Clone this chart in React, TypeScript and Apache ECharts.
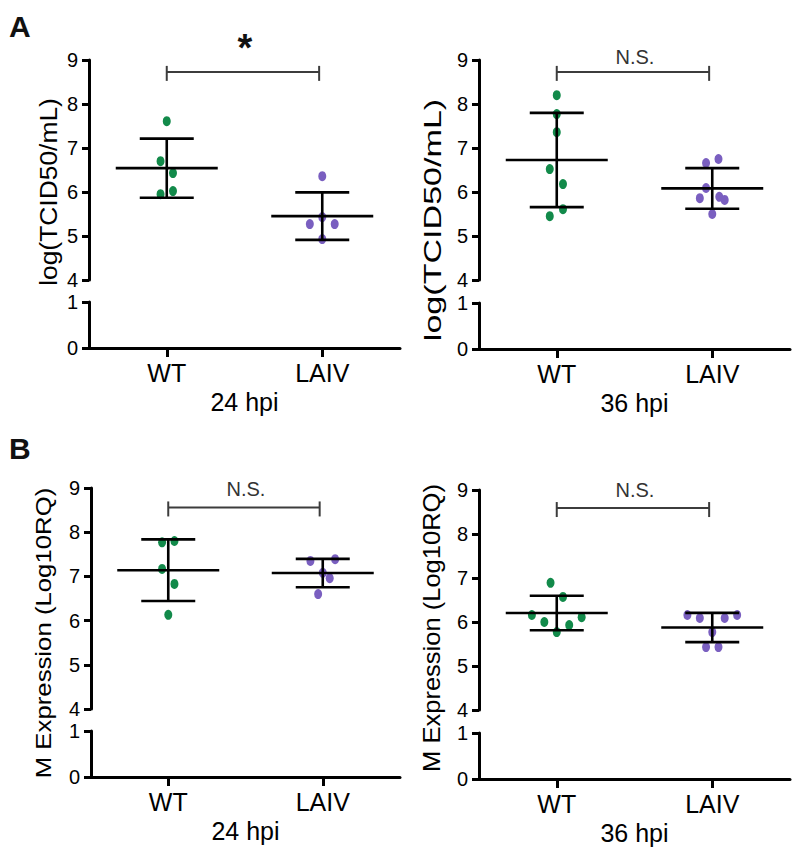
import React, { useEffect, useRef } from 'react';
import * as echarts from 'echarts';

// ---- data ----
const groups = ['WT', 'LAIV'];
const yTicksUpper = [4, 5, 6, 7, 8, 9];
const yTicksLower = [0, 1];

// Panel A: log(TCID50/mL)
const titer24WT = [7.61, 6.7, 6.43, 5.95, 6.02];
const titer24WTJitter = [0, -0.04, 0.04, -0.04, 0.04];
const titer24LAIV = [6.36, 5.27, 5.27, 5.43, 4.93];
const titer24LAIVJitter = [0, -0.08, 0.08, 0, 0];

const titer36WT = [8.2, 7.77, 7.36, 6.52, 6.18, 5.61, 5.45];
const titer36WTJitter = [0, 0, 0, -0.045, 0.04, 0.04, -0.045];
const titer36LAIV = [6.75, 6.66, 6.09, 5.86, 5.89, 5.82, 5.5];
const titer36LAIVJitter = [0.04, -0.04, -0.04, -0.08, 0.045, 0.08, 0];

// Panel B: M Expression (Log10RQ)
const mexp24WT = [7.77, 7.8, 7.17, 6.83, 6.13];
const mexp24WTJitter = [-0.04, 0.04, -0.04, 0.04, 0];
const mexp24LAIV = [7.35, 7.39, 7.08, 6.96, 6.6];
const mexp24LAIVJitter = [-0.08, 0.08, 0, 0.045, -0.03];

const mexp36WT = [6.89, 6.57, 6.16, 6.11, 6.0, 5.93, 5.77];
const mexp36WTJitter = [-0.04, 0.04, -0.16, 0.16, -0.08, 0.08, 0];
const mexp36LAIV = [6.16, 6.09, 6.09, 6.16, 5.77, 5.43, 5.43];
const mexp36LAIVJitter = [-0.16, -0.08, 0.08, 0.16, 0, -0.04, 0.04];

const timeLabels = ['24 hpi', '36 hpi', '24 hpi', '36 hpi'];
const sigLabels = ['*', 'N.S.', 'N.S.', 'N.S.'];
const yTitles = ['log(TCID50/mL)', 'log(TCID50/mL)', 'M Expression (Log10RQ)', 'M Expression (Log10RQ)'];
const panelLetters = ['A', 'B'];

const panelData = [
  { wt: titer24WT, wtJ: titer24WTJitter, laiv: titer24LAIV, laivJ: titer24LAIVJitter },
  { wt: titer36WT, wtJ: titer36WTJitter, laiv: titer36LAIV, laivJ: titer36LAIVJitter },
  { wt: mexp24WT, wtJ: mexp24WTJitter, laiv: mexp24LAIV, laivJ: mexp24LAIVJitter },
  { wt: mexp36WT, wtJ: mexp36WTJitter, laiv: mexp36LAIV, laivJ: mexp36LAIVJitter },
];

// ---- layout / style ----
const FONT = '"Liberation Sans", Arial, Helvetica, sans-serif';
const GREEN = '#128a4a';
const PURPLE = '#7a5fc0';

const layout = [
  { left: 89, top: 60, width: 311, height: 220, lowTop: 302, lowH: 46, bracketY: 8.73, sigDy: -24, sigSize: 38, sigBold: true,
    title: { x: 48, y: 192, scale: 1.1, size: 24 } },
  { left: 479, top: 60, width: 311, height: 220, lowTop: 303, lowH: 46, bracketY: 8.73, sigDy: -15, sigSize: 20, sigBold: false,
    title: { x: 432, y: 220, scale: 1.42, size: 24 } },
  { left: 91, top: 488, width: 309, height: 221, lowTop: 731, lowH: 46, bracketY: 8.56, sigDy: -18, sigSize: 20, sigBold: false,
    title: { x: 43, y: 633, scale: 1.12, size: 23 } },
  { left: 479, top: 490, width: 311, height: 220, lowTop: 733, lowH: 46, bracketY: 8.59, sigDy: -18, sigSize: 20, sigBold: false,
    title: { x: 432, y: 628, scale: 1.11, size: 23 } },
];

const mean = (a: number[]) => a.reduce((s, v) => s + v, 0) / a.length;
const sd = (a: number[]) => {
  const m = mean(a);
  return Math.sqrt(a.reduce((s, v) => s + (v - m) * (v - m), 0) / (a.length - 1));
};

const axisLineOpt = () => ({ show: true, onZero: false, lineStyle: { color: '#000', width: 3, opacity: 1 } });
const yTickOpt = () => ({ show: true, length: 7, lineStyle: { color: '#000', width: 3, opacity: 1 } });
const yLabelOpt = () => ({ show: true, color: '#000', fontSize: 20, fontFamily: FONT, margin: 11 });

function buildOption() {
  const grid: any[] = [];
  const xAxis: any[] = [];
  const yAxis: any[] = [];
  const series: any[] = [];
  const graphic: any[] = [];

  panelData.forEach((p, i) => {
    const L = layout[i];
    const gTop = grid.length;
    grid.push({ left: L.left, top: L.top, width: L.width, height: L.height });
    grid.push({ left: L.left, top: L.lowTop, width: L.width, height: L.lowH });

    xAxis.push({ gridIndex: gTop, type: 'value', min: -0.5, max: 1.5, show: false });
    xAxis.push({
      gridIndex: gTop + 1, type: 'category', data: groups, boundaryGap: true,
      axisLine: axisLineOpt(),
      axisTick: { show: true, alignWithLabel: true, length: 9, lineStyle: { color: '#000', width: 3 } },
      axisLabel: { color: '#000', fontSize: 25, fontFamily: FONT, margin: 12 },
      name: timeLabels[i], nameLocation: 'middle', nameGap: 41,
      nameTextStyle: { color: '#000', fontSize: 25, fontFamily: FONT },
    });

    yAxis.push({
      gridIndex: gTop, type: 'value', min: yTicksUpper[0], max: yTicksUpper[yTicksUpper.length - 1], interval: 1,
      axisLine: axisLineOpt(),
      axisTick: yTickOpt(),
      axisLabel: yLabelOpt(),
      splitLine: { show: false },
    });
    yAxis.push({
      gridIndex: gTop + 1, type: 'value', min: yTicksLower[0], max: yTicksLower[1], interval: 1,
      axisLine: axisLineOpt(),
      axisTick: yTickOpt(),
      axisLabel: yLabelOpt(),
      splitLine: { show: false },
    });

    const xi = gTop;
    const yi = gTop;

    series.push({
      type: 'scatter', xAxisIndex: xi, yAxisIndex: yi, symbol: 'circle', symbolSize: [8, 10],
      itemStyle: { color: GREEN, opacity: 1 }, z: 2,
      data: p.wt.map((v, k) => [0 + p.wtJ[k], v]),
    });
    series.push({
      type: 'scatter', xAxisIndex: xi, yAxisIndex: yi, symbol: 'circle', symbolSize: [8, 10],
      itemStyle: { color: PURPLE, opacity: 1 }, z: 2,
      data: p.laiv.map((v, k) => [1 + p.laivJ[k], v]),
    });

    // mean ± SD
    series.push({
      type: 'custom', xAxisIndex: xi, yAxisIndex: yi, z: 5, silent: true,
      dimensions: ['x', 'm', 's'], encode: { x: 0, y: 1 },
      data: [[0, mean(p.wt), sd(p.wt)], [1, mean(p.laiv), sd(p.laiv)]],
      renderItem: (params: any, api: any) => {
        const x = api.value(0), m = api.value(1), s = api.value(2);
        const c = api.coord([x, m]);
        const t = api.coord([x, m + s]);
        const b = api.coord([x, m - s]);
        const st = { stroke: '#000', lineWidth: 2.6 };
        return {
          type: 'group', children: [
            { type: 'line', shape: { x1: c[0], y1: t[1], x2: c[0], y2: b[1] }, style: st },
            { type: 'line', shape: { x1: c[0] - 51, y1: c[1], x2: c[0] + 51, y2: c[1] }, style: st },
            { type: 'line', shape: { x1: c[0] - 27, y1: t[1], x2: c[0] + 27, y2: t[1] }, style: st },
            { type: 'line', shape: { x1: c[0] - 27, y1: b[1], x2: c[0] + 27, y2: b[1] }, style: st },
          ],
        };
      },
    });

    // significance bracket
    const sig = sigLabels[i];
    series.push({
      type: 'custom', xAxisIndex: xi, yAxisIndex: yi, z: 5, silent: true,
      dimensions: ['a', 'b', 'y'], encode: { x: [0, 1], y: 2 },
      data: [[0, 0.98, L.bracketY]],
      renderItem: (params: any, api: any) => {
        const p1 = api.coord([api.value(0), api.value(2)]);
        const p2 = api.coord([api.value(1), api.value(2)]);
        const st = { stroke: '#3c3c3c', lineWidth: 2 };
        return {
          type: 'group', children: [
            { type: 'line', shape: { x1: p1[0], y1: p1[1], x2: p2[0], y2: p2[1] }, style: st },
            { type: 'line', shape: { x1: p1[0], y1: p1[1] - 6, x2: p1[0], y2: p1[1] + 9 }, style: st },
            { type: 'line', shape: { x1: p2[0], y1: p2[1] - 6, x2: p2[0], y2: p2[1] + 9 }, style: st },
            {
              type: 'text', x: (p1[0] + p2[0]) / 2 + 2, y: p1[1] + L.sigDy,
              style: {
                text: sig, fill: L.sigBold ? '#111' : '#333', fontSize: L.sigSize, fontFamily: FONT,
                fontWeight: L.sigBold ? 'bold' : 'normal', align: 'center', verticalAlign: 'middle',
              },
            },
          ],
        };
      },
    });

    graphic.push({
      type: 'text', x: L.title.x, y: L.title.y, rotation: Math.PI / 2, scaleX: L.title.scale,
      style: { text: yTitles[i], fill: '#000', fontSize: L.title.size, fontFamily: FONT, align: 'center', verticalAlign: 'middle' },
    });
  });

  graphic.push({
    type: 'text', x: 9, y: 26,
    style: { text: panelLetters[0], fill: '#111', fontSize: 30, fontWeight: 'bold', fontFamily: FONT, align: 'left', verticalAlign: 'middle' },
  });
  graphic.push({
    type: 'text', x: 9, y: 448,
    style: { text: panelLetters[1], fill: '#111', fontSize: 30, fontWeight: 'bold', fontFamily: FONT, align: 'left', verticalAlign: 'middle' },
  });

  return {
    animation: false,
    backgroundColor: '#fff',
    grid, xAxis, yAxis, series, graphic,
  };
}

export default function App() {
  const ref = useRef<HTMLDivElement>(null);
  useEffect(() => {
    if (!ref.current) return;
    const chart = echarts.init(ref.current, undefined, { renderer: 'svg' });
    chart.setOption(buildOption());
    return () => chart.dispose();
  }, []);
  return <div ref={ref} style={{ position: 'absolute', left: 0, top: 0, width: 800, height: 858 }} />;
}
